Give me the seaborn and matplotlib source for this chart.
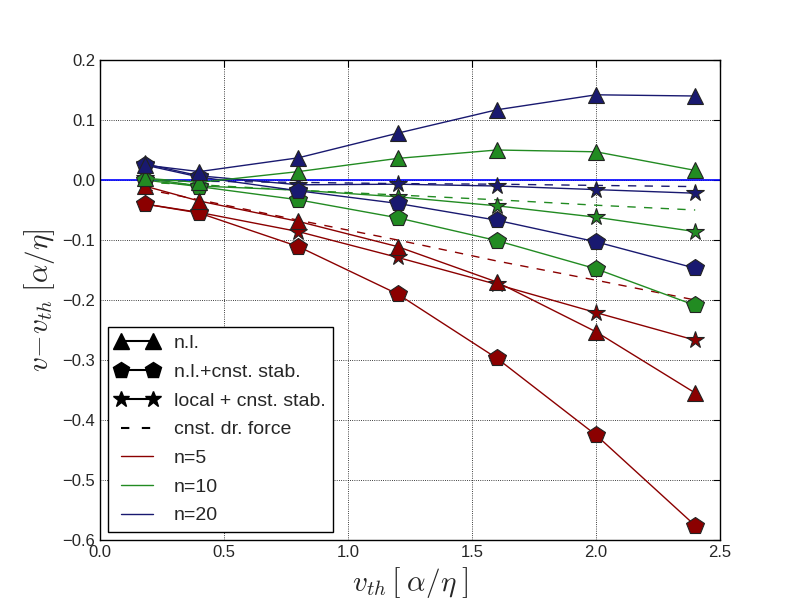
import numpy as np
import pandas as pd
import matplotlib
matplotlib.use('Agg')
import matplotlib.pyplot as plt
import seaborn as sns
from matplotlib.lines import Line2D

# thermal velocities
v_th = [0.18, 0.4, 0.8, 1.2, 1.6, 2.0, 2.4]

# non-local model
nl_n5 = [-0.010, -0.035, -0.069, -0.111, -0.170, -0.253, -0.355]
nl_n10 = [0.003, -0.004, 0.014, 0.036, 0.050, 0.047, 0.016]
nl_n20 = [0.025, 0.014, 0.037, 0.078, 0.117, 0.142, 0.140]

# non-local + constant stabilisation
nlcs_n5 = [-0.040, -0.055, -0.111, -0.190, -0.297, -0.425, -0.576]
nlcs_n10 = [0.000, -0.011, -0.033, -0.063, -0.101, -0.148, -0.209]
nlcs_n20 = [0.025, 0.005, -0.018, -0.039, -0.067, -0.103, -0.147]

# local + constant stabilisation
loc_n5 = [-0.040, -0.054, -0.086, -0.129, -0.174, -0.221, -0.267]
loc_n10 = [0.003, -0.010, -0.017, -0.028, -0.043, -0.062, -0.086]
loc_n20 = [0.027, 0.007, -0.008, -0.007, -0.010, -0.016, -0.022]

# constant drag force
cdf_n5 = [-0.015, -0.033, -0.067, -0.100, -0.135, -0.167, -0.200]
cdf_n10 = [-0.004, -0.008, -0.017, -0.025, -0.033, -0.042, -0.050]
cdf_n20 = [-0.001, -0.002, -0.004, -0.006, -0.007, -0.009, -0.011]

n_labels = ['n=5', 'n=10', 'n=20']
colors = ['#8b0000', '#228b22', '#191970']

sns.set_style('white')
plt.rcParams['font.family'] = ['Liberation Sans', 'DejaVu Sans']
plt.rcParams['mathtext.fontset'] = 'cm'
plt.rcParams['xtick.direction'] = 'in'
plt.rcParams['ytick.direction'] = 'in'
plt.rcParams['xtick.top'] = True
plt.rcParams['ytick.right'] = True

fig, ax = plt.subplots(figsize=(8, 6), dpi=100)
fig.subplots_adjust(left=0.125, right=0.9, bottom=0.1, top=0.9)

ax.axhline(0, color='#0000ff', lw=1.2, zorder=1)

msize = {'^': 11, 'p': 13, '*': 13}
groups = [
    ([cdf_n5, cdf_n10, cdf_n20], None, '--'),
    ([loc_n5, loc_n10, loc_n20], '*', '-'),
    ([nlcs_n5, nlcs_n10, nlcs_n20], 'p', '-'),
    ([nl_n5, nl_n10, nl_n20], '^', '-'),
]
for series, marker, ls in groups:
    for y, c in zip(series, colors):
        kw = dict(marker=marker, markersize=msize[marker],
                  markeredgecolor='#222222', markeredgewidth=0.8) if marker else {}
        sns.lineplot(x=v_th, y=y, color=c, linestyle=ls, lw=1.0,
                     legend=False, ax=ax, **kw)
        if ls == '--':
            ax.lines[-1].set_dashes((6, 6))

ax.set_xlim(0, 2.5)
ax.set_ylim(-0.6, 0.2)
ax.set_xticks(np.arange(0, 2.51, 0.5))
ax.set_yticks(np.arange(-0.6, 0.21, 0.1))
ax.grid(True, color='k', linestyle=':', lw=0.6)
ax.tick_params(labelsize=12, length=5, color='k')
for s in ax.spines.values():
    s.set_color('k')
    s.set_linewidth(1.0)

ax.set_xlabel(r'$v_{th}\,\left[\;\alpha/\eta\;\right]$', fontsize=21)
ax.set_ylabel(r'$v\!-\!v_{th}\;\left[\alpha/\eta\right]$', fontsize=21)

handles = [
    Line2D([], [], color='k', marker='^', markersize=11),
    Line2D([], [], color='k', marker='p', markersize=12),
    Line2D([], [], color='k', marker='*', markersize=12),
    Line2D([], [], color='k', linestyle='--', dashes=(4, 6)),
] + [Line2D([], [], color=c, lw=1.0) for c in colors]
labels = ['n.l.', 'n.l.+cnst. stab.', 'local + cnst. stab.', 'cnst. dr. force'] + n_labels
leg = ax.legend(handles, labels, loc='lower left', numpoints=2, fontsize=14,
                frameon=True, fancybox=False, framealpha=1, edgecolor='k',
                handlelength=2.2, labelspacing=0.57, borderaxespad=0.4)
leg.get_frame().set_linewidth(1.0)

fig.savefig('out.png', dpi=100)
